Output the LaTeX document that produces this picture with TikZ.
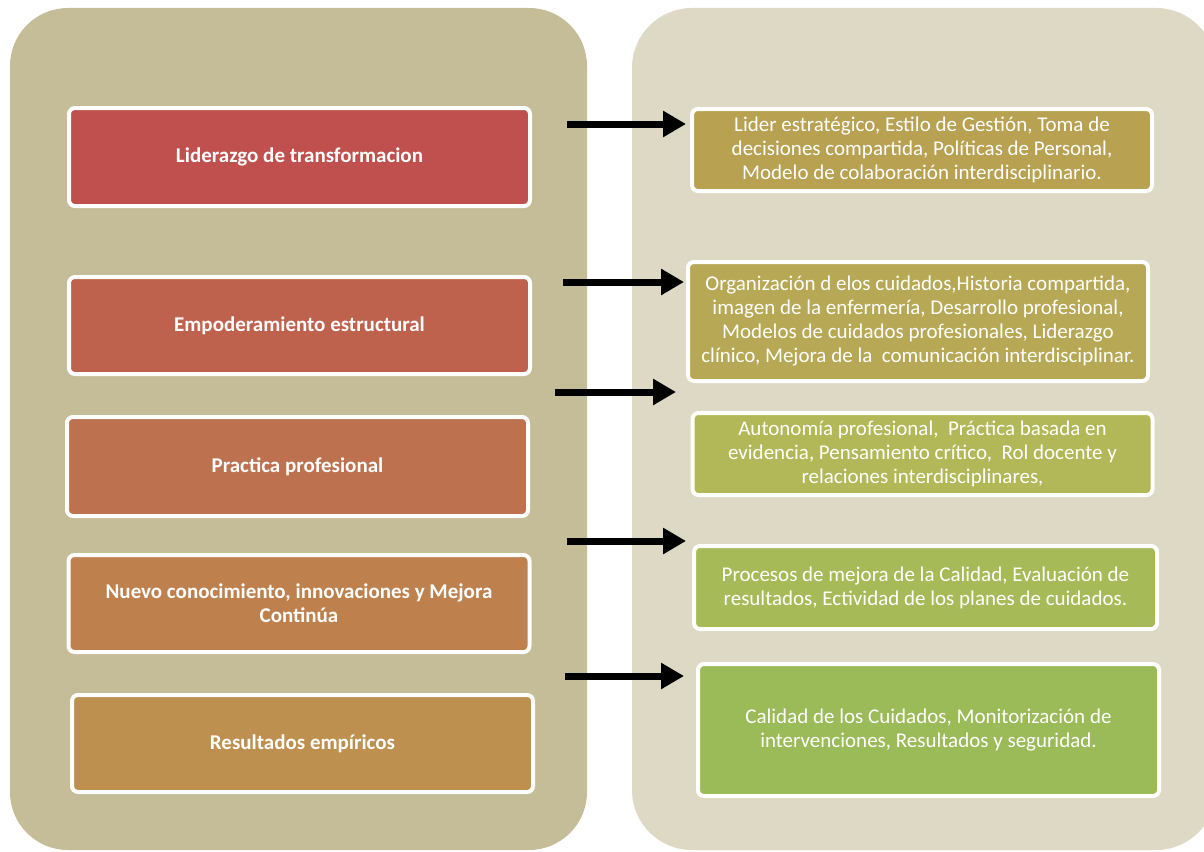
\documentclass[tikz,border=0pt]{standalone}
\usepackage{fontspec}
\setmainfont{Carlito}
\usetikzlibrary{arrows.meta}
\definecolor{lpanel}{HTML}{C4BD97}
\definecolor{rpanel}{HTML}{DDD9C4}
\definecolor{lA}{HTML}{C0504D}
\definecolor{lB}{HTML}{BF624D}
\definecolor{lC}{HTML}{BE714E}
\definecolor{lD}{HTML}{BE814E}
\definecolor{lE}{HTML}{BE904F}
\definecolor{rA}{HTML}{B8A151}
\definecolor{rB}{HTML}{B6A854}
\definecolor{rC}{HTML}{B2B858}
\definecolor{rD}{HTML}{A7BA58}
\definecolor{rE}{HTML}{9BBB59}
\tikzset{
  leftbox/.style={draw=white, line width=4pt, rounded corners=6pt,
    minimum width=461pt, inner sep=0pt, text=white, align=center,
    font=\fontsize{21}{24}\selectfont\bfseries},
  rightbox/.style={draw=white, line width=4pt, rounded corners=6pt,
    minimum width=460pt, inner sep=0pt, text=white, align=center,
    font=\fontsize{21}{24}\selectfont},
  bigarrow/.style={line width=7pt, -{Triangle[length=23pt,width=25pt]}}
}
\begin{document}
\begin{tikzpicture}[x=1pt,y=-1pt]
\useasboundingbox (0,0) rectangle (1204,851);
\clip (0,0) rectangle (1204,851);
\fill[white] (0,0) rectangle (1204,851);
% panels
\fill[lpanel, rounded corners=58pt] (10,8) rectangle (587,850);
\fill[rpanel, rounded corners=60pt] (632,8) rectangle (1216,850);
% left boxes
\node[leftbox, fill=lA, minimum height=98pt] (l1) at (299.5,157) {Liderazgo de transformacion};
\node[leftbox, fill=lB, minimum height=97pt] (l2) at (299.5,325.5) {Empoderamiento estructural};
\node[leftbox, fill=lC, minimum height=99pt] (l3) at (297.5,466.5) {Practica profesional};
\node[leftbox, fill=lD, minimum height=97pt] (l4) at (299,603.5) {Nuevo conocimiento, innovaciones y Mejora\\Continúa};
\node[leftbox, fill=lE, minimum height=97pt] (l5) at (302.5,743.5) {Resultados empíricos};
% right boxes
\node[rightbox, fill=rA, minimum height=82pt] (r1) at (922,150) {Lider estratégico, Estilo de Gestión, Toma de\\decisiones compartida, Políticas de Personal,\\Modelo de colaboración interdisciplinario.};
\node[rightbox, fill=rB, minimum height=119pt] (r2) at (918,321.5) {Organización d elos cuidados,Historia compartida,\\imagen de la enfermería, Desarrollo profesional,\\Modelos de cuidados profesionales, Liderazgo\\clínico, Mejora de la\ \ comunicación interdisciplinar.};
\node[rightbox, fill=rC, minimum height=82pt] (r3) at (922.5,454) {Autonomía profesional,\ \ Práctica basada en\\evidencia, Pensamiento crítico,\ \ Rol docente y\\relaciones interdisciplinares,};
\node[rightbox, fill=rD, minimum height=83pt, minimum width=463pt] (r4) at (925.5,587.5) {Procesos de mejora de la Calidad, Evaluación de\\resultados, Ectividad de los planes de cuidados.};
\node[rightbox, fill=rE, minimum height=132pt, minimum width=461pt] (r5) at (928.5,730) {Calidad de los Cuidados, Monitorización de\\intervenciones, Resultados y seguridad.};
% arrow end points
\coordinate (a1s) at (567,124); \coordinate (a1e) at (686,124);
\coordinate (a2s) at (563,282); \coordinate (a2e) at (684,282);
\coordinate (a3s) at (555,392); \coordinate (a3e) at (676,392);
\coordinate (a4s) at (567,541); \coordinate (a4e) at (686,541);
\coordinate (a5s) at (565,676); \coordinate (a5e) at (684,676);
\draw[bigarrow] (a1s) -- (a1e);
\draw[bigarrow] (a2s) -- (a2e);
\draw[bigarrow] (a3s) -- (a3e);
\draw[bigarrow] (a4s) -- (a4e);
\draw[bigarrow] (a5s) -- (a5e);
\end{tikzpicture}
\end{document}
